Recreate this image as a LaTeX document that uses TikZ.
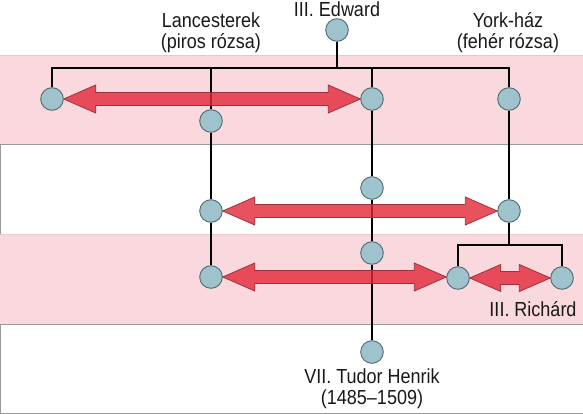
\documentclass[tikz,border=0pt]{standalone}
\usepackage{fontspec}
\setmainfont{Liberation Sans}
\usetikzlibrary{calc}
\definecolor{bandpink}{HTML}{F9D8DE}
\definecolor{bandedge}{HTML}{EBC8CE}
\definecolor{boxedge}{HTML}{9A9A9A}
\definecolor{nodefill}{HTML}{9EC3CD}
\definecolor{nodeedge}{HTML}{4E6A72}
\definecolor{arrowfill}{RGB}{227,39,55}
\definecolor{arrowedge}{HTML}{A0303C}
\newcommand\fatarrow[4]{%
  \filldraw[fatarrowstyle] let \p1=(#1.east), \p2=(#2.west) in
   (\x1,\y1) -- (\x1+#3pt,\y1+#4pt) -- (\x1+#3pt,\y1+6.5pt) -- (\x2-#3pt,\y1+6.5pt)
   -- (\x2-#3pt,\y1+#4pt) -- (\x2,\y1) -- (\x2-#3pt,\y1-#4pt) -- (\x2-#3pt,\y1-6.5pt)
   -- (\x1+#3pt,\y1-6.5pt) -- (\x1+#3pt,\y1-#4pt) -- cycle;}
\newcommand\lbltext[1]{\fontsize{18}{17.7}\selectfont\scalebox{1}[1.13]{\begin{tabular}{@{}c@{}}#1\end{tabular}}}
\begin{document}
\begin{tikzpicture}[x=1pt,y=-1pt,
  person/.style={circle, fill=nodefill, draw=nodeedge, line width=0.9pt,
    minimum size=22.6pt, inner sep=0pt},
  tree/.style={line width=2pt, black},
  lbl/.style={inner sep=0pt, anchor=north, text=black!90},
  pinkband/.style={fill=bandpink, draw=bandedge, line width=0.8pt},
  whiteband/.style={fill=white, draw=boxedge, line width=0.8pt},
  fatarrowstyle/.style={fill=arrowfill, fill opacity=0.8, draw=arrowedge, line width=0.8pt}]
\useasboundingbox (0,0) rectangle (583,414);
% bands
\path[pinkband] (-2,55) rectangle (590,144);
\path[whiteband] (0,144) rectangle (590,234);
\path[pinkband] (-2,234) rectangle (590,324);
\path[whiteband] (0,324) rectangle (590,413);
% people
\node[person] (ed) at (337,30) {};
\node[person] (a) at (52,99) {};
\node[person] (b) at (211,121) {};
\node[person] (c) at (372,99) {};
\node[person] (d) at (509,99) {};
\node[person] (e) at (211,211) {};
\node[person] (g) at (372,188) {};
\node[person] (i) at (509,211) {};
\node[person] (h) at (372,253) {};
\node[person] (f) at (211,277) {};
\node[person] (j) at (458,278) {};
\node[person] (k) at (562,278) {};
\node[person] (t) at (372,352) {};
\coordinate (top) at (337,68);
\coordinate (topR) at (509,68);
\coordinate (rbar) at (509,245);
% tree lines
\draw[tree] (ed) -- (top);
\draw[tree] (a) |- (topR) -- (d);
\draw[tree] (b |- top) -- (b) -- (e) -- (f);
\draw[tree] (c |- top) -- (c) -- (g) -- (h) -- (t);
\draw[tree] (d) -- (i) -- (rbar);
\draw[tree] (j) |- (rbar) -| (k);
% arrows
\fatarrow{a}{c}{32}{14}
\fatarrow{e}{i}{32}{14}
\fatarrow{f}{j}{32}{14}
\fatarrow{j}{k}{31}{13.5}
% labels
\node[lbl] (led) at (337,2) {\lbltext{III. Edward}};
\node[lbl] (llan) at (211,12.7) {\lbltext{Lancesterek\\(piros rózsa)}};
\node[lbl] (lyork) at (508,12.5) {\lbltext{York-ház\\(fehér rózsa)}};
\node[lbl] (lric) at (533,301) {\lbltext{III. Richárd}};
\node[lbl] (ltud) at (372,368.5) {\lbltext{VII. Tudor Henrik\\(1485–1509)}};
\end{tikzpicture}
\end{document}
